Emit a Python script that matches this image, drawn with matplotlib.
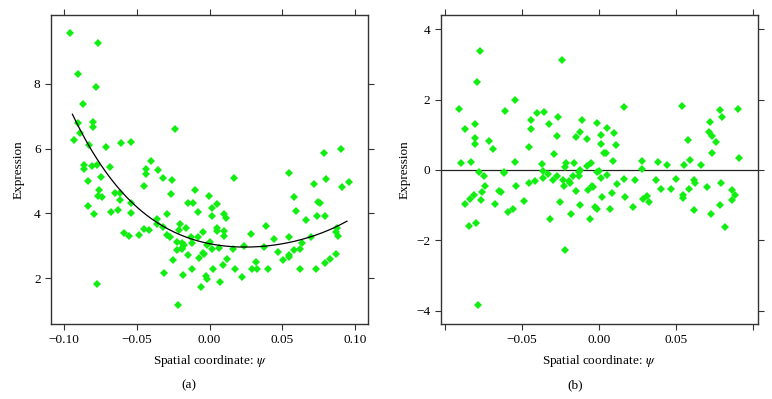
import numpy as np
import matplotlib
matplotlib.use("Agg")
from matplotlib import pyplot as plt

plt.rcParams['font.family'] = ['Liberation Serif', 'DejaVu Serif']
plt.rcParams['mathtext.fontset'] = 'stix'

#Panel (a): expression vs spatial coordinate
x_a = [-0.0959, -0.0768, -0.0906, -0.0784, -0.0867, -0.0906, -0.0798, -0.0803, -0.0890, -0.0931,
       -0.0830, -0.0709, -0.0610, -0.0539, -0.0236, -0.0865, -0.0865, -0.0810, -0.0773, -0.0686,
       -0.0748, -0.0835, -0.0757, -0.0766, -0.0741, -0.0649, -0.0615, -0.0438, -0.0438, -0.0401,
       -0.0351, -0.0323, -0.0261, -0.0450, -0.0268, -0.0103, -0.0007, 0.0165, 0.0546, 0.0580,
       0.0720, 0.0787, 0.0803, 0.0906, 0.0908, 0.0959, 0.0743, 0.0761,
       -0.0615, -0.0677, -0.0628, -0.0537, -0.0539, -0.0839, -0.0794, -0.0149, -0.0117, 0.0048,
       0.0016, 0.0018, -0.0078, 0.0103, 0.0112, 0.0592, 0.0663, 0.0739, 0.0794, -0.0362,
       -0.0362, -0.0321, -0.0587, -0.0555, -0.0482, -0.0454, -0.0415, -0.0291, -0.0294, -0.0271,
       -0.0206, -0.0213, -0.0163, -0.0126, -0.0122, -0.0186, -0.0174, -0.0188, -0.0188, -0.0227,
       -0.0225, -0.0248, -0.0044, -0.0076, 0.0005, -0.0018, 0.0050, 0.0050, 0.0103, 0.0101,
       0.0062, 0.0018, -0.0147, -0.0073, -0.0044, -0.0037, 0.0122, 0.0092, 0.0021, -0.0122,
       -0.0312, -0.0179, -0.0023, -0.0014, -0.0060, 0.0073, -0.0216, -0.0775, 0.0172, 0.0225,
       0.0161, 0.0236, 0.0284, 0.0289, 0.0317, 0.0326, 0.0388, 0.0374, 0.0404, 0.0445,
       0.0468, 0.0505, 0.0550, 0.0544, 0.0550, 0.0583, 0.0619, 0.0624, 0.0633, 0.0697,
       0.0732, 0.0791, 0.0826, 0.0869, 0.0876, 0.0883, 0.0872]
y_a = [9.56, 9.26, 8.31, 7.89, 7.37, 6.79, 6.83, 6.68, 6.47, 6.26,
       6.11, 6.06, 6.18, 6.21, 6.62, 5.49, 5.36, 5.45, 5.49, 5.43,
       5.14, 5.00, 4.71, 4.53, 4.52, 4.62, 4.64, 5.38, 5.23, 5.62,
       5.33, 5.08, 5.02, 4.85, 4.61, 4.71, 4.53, 5.08, 5.25, 4.52,
       4.92, 5.88, 5.05, 6.00, 4.83, 4.97, 4.35, 4.31,
       4.41, 4.06, 4.10, 4.00, 4.31, 4.23, 3.97, 4.31, 4.31, 4.29,
       4.17, 3.93, 4.04, 3.97, 3.87, 4.09, 3.81, 3.92, 3.93, 3.82,
       3.67, 3.59, 3.41, 3.30, 3.33, 3.51, 3.48, 3.98, 3.33, 3.28,
       3.66, 3.49, 3.54, 3.28, 3.08, 3.08, 3.03, 2.94, 2.89, 3.13,
       2.87, 2.56, 3.42, 3.28, 3.13, 3.03, 3.56, 3.46, 3.46, 3.30,
       2.94, 2.89, 2.73, 2.64, 2.79, 2.75, 2.58, 2.41, 2.30, 2.29,
       2.15, 2.09, 2.07, 1.97, 1.74, 1.88, 1.19, 1.81, 2.28, 2.03,
       2.90, 3.00, 3.36, 2.28, 2.50, 2.28, 3.62, 2.98, 2.28, 3.22,
       2.82, 2.55, 3.28, 2.72, 2.67, 2.87, 2.90, 2.28, 3.08, 3.26,
       2.28, 2.46, 2.61, 3.44, 3.54, 3.30, 2.75]

#Fitted curve of panel (a)
curve_x = [-0.0943, -0.075, -0.0539, -0.0326, -0.0126, 0.0011, 0.028, 0.0544, 0.075, 0.0945]
curve_y = [7.07, 5.51, 4.33, 3.66, 3.23, 3.07, 2.90, 3.13, 3.38, 3.75]

#Panel (b)
x_b = [-0.0907, -0.0772, -0.0789, -0.0867, -0.0893, -0.0833, -0.0804, -0.0802, -0.0807, -0.0780,
       -0.0746, -0.0711, -0.0687, -0.0617, -0.0617, -0.0613, -0.0543, -0.0543, -0.0457, -0.0443,
       -0.0439, -0.0404, -0.0354, -0.0326, -0.0367, -0.0365, -0.0361, -0.0328, -0.0296, -0.0293,
       -0.0272, -0.0265, -0.0239, -0.0274, -0.0230, -0.0211, -0.0217, -0.0193, -0.0189, -0.0167,
       -0.0163, -0.0128, -0.0124, -0.0132, -0.0148, -0.0122, -0.0107, -0.0080, -0.0080, -0.0048,
       -0.0013, 0.0000, -0.0011, 0.0011, 0.0013, 0.0015, 0.0035, 0.0046, 0.0050, 0.0054,
       0.0098, 0.0111, 0.0094, 0.0120, 0.0161, 0.0161, 0.0235, 0.0283, 0.0283, 0.0372,
       0.0387, 0.0446, 0.0502, 0.0543, 0.0552, 0.0578, 0.0593, 0.0617, 0.0626, 0.0661,
       0.0717, 0.0722, 0.0737, 0.0735, 0.0759, 0.0789, 0.0802, 0.0793, 0.0907, 0.0909,
       -0.0457, -0.0417,
       -0.0741, -0.0759, -0.0811, -0.0837, -0.0867, -0.0846, -0.0798, -0.0765, -0.0678, -0.0652,
       -0.0635, -0.0589, -0.0557, -0.0541, -0.0485, -0.0315, -0.0250, -0.0228, -0.0217, -0.0178,
       -0.0150, -0.0124, -0.0072, -0.0059, -0.0046, -0.0035, -0.0022, -0.0015, 0.0020, 0.0072,
       0.0087, 0.0172, 0.0224, 0.0289, 0.0315, 0.0326, 0.0402, 0.0470, 0.0550, 0.0550,
       0.0587, 0.0620, 0.0700, 0.0730, 0.0789, 0.0820, 0.0865, 0.0867, 0.0885, -0.0783]
y_b = [1.72, 3.38, 2.51, 1.17, 0.19, 0.23, 1.30, 0.92, 0.75, -0.05,
       -0.16, 0.81, 0.58, -0.05, -0.10, 1.68, 2.00, 0.22, 0.65, 1.15,
       1.42, 1.61, 1.65, 1.30, 0.17, -0.04, -0.24, -0.12, -0.29, 0.44,
       0.96, 1.51, 3.12, -0.18, -0.29, 0.21, 0.09, -0.32, -0.38, -0.16,
       0.19, -0.07, 0.00, -0.16, 0.93, 1.09, 1.42, 0.89, 0.12, 0.21,
       -0.05, -0.03, 1.34, 0.99, 0.73, -0.22, 0.47, 0.47, 1.19, -0.14,
       1.04, 0.71, 0.24, -0.40, 1.78, -0.26, -0.29, 0.24, 0.03, -0.29,
       0.22, 0.13, -0.26, 1.83, 0.15, 0.84, 0.28, -0.28, -0.36, 0.13,
       1.09, 1.36, 0.96, 0.49, 0.78, 1.70, 1.51, -0.36, 1.74, 0.33,
       -0.36, -0.31,
       -0.45, -0.64, -0.71, -0.82, -0.98, -1.59, -1.52, -0.85, -0.98, -0.59,
       -0.62, -1.20, -1.12, -0.45, -0.89, -1.39, -0.92, -0.47, -2.27, -1.25,
       -0.60, -1.00, -0.56, -1.39, -0.47, -0.50, -1.05, -1.11, -0.76, -1.11,
       -0.66, -0.76, -1.05, -0.82, -0.74, -0.92, -0.54, -0.53, -0.72, -0.80,
       -0.54, -1.15, -0.49, -1.24, -1.00, -1.61, -0.85, -0.58, -0.71, -3.85]

xticks = [-0.10, -0.05, 0.00, 0.05, 0.10]
yticks_a = [2, 4, 6, 8]
yticks_b = [-4, -2, 0, 2, 4]

green = '#12ee12'
frame = '#333333'
fs = 9.5

fig = plt.figure(figsize=(7.72, 3.99), dpi=100)
ax1 = fig.add_axes([0.0661, 0.188, 0.4106, 0.775])
ax2 = fig.add_axes([0.5709, 0.188, 0.4106, 0.775])

def style(ax):
    for s in ax.spines.values():
        s.set_color(frame)
        s.set_linewidth(1.0)
    ax.tick_params(direction='out', length=4.5, width=0.8, color=frame,
                   top=True, right=True, labelsize=fs, pad=3)

#(a)
ax1.plot(x_a, y_a, 'D', color=green, ms=3.8, mew=0)
cf = np.polyfit(curve_x, curve_y, 4)
xs = np.linspace(curve_x[0], curve_x[-1], 200)
ax1.plot(xs, np.polyval(cf, xs), color='black', lw=0.9)
ax1.set_xlim(-0.109, 0.109)
ax1.set_ylim(0.59, 10.13)
ax1.set_xticks(xticks)
ax1.set_xticklabels(['\u22120.10', '\u22120.05', '0.00', '0.05', '0.10'])
ax1.set_yticks(yticks_a)
style(ax1)
ax1.set_xlabel(r'Spatial coordinate: $\psi$', fontsize=fs, labelpad=5)
ax1.set_ylabel('Expression', fontsize=fs, labelpad=7)

#(b)
ax2.axhline(0, color='#222222', lw=0.9)
ax2.plot(x_b, y_b, 'D', color=green, ms=3.8, mew=0)
ax2.set_xlim(-0.1028, 0.1033)
ax2.set_ylim(-4.38, 4.41)
ax2.set_xticks(xticks)
ax2.set_xticklabels(['', '\u22120.05', '0.00', '0.05', ''])
ax2.set_yticks(yticks_b)
ax2.set_yticklabels(['\u22124', '\u22122', '0', '2', '4'])
style(ax2)
ax2.set_xlabel(r'Spatial coordinate: $\psi$', fontsize=fs, labelpad=5)
ax2.set_ylabel('Expression', fontsize=fs, labelpad=4)

fig.text(0.245, 0.035, '(a)', ha='center', va='center', fontsize=fs)
fig.text(0.745, 0.035, '(b)', ha='center', va='center', fontsize=fs)

plt.savefig('out.png', dpi=100)
